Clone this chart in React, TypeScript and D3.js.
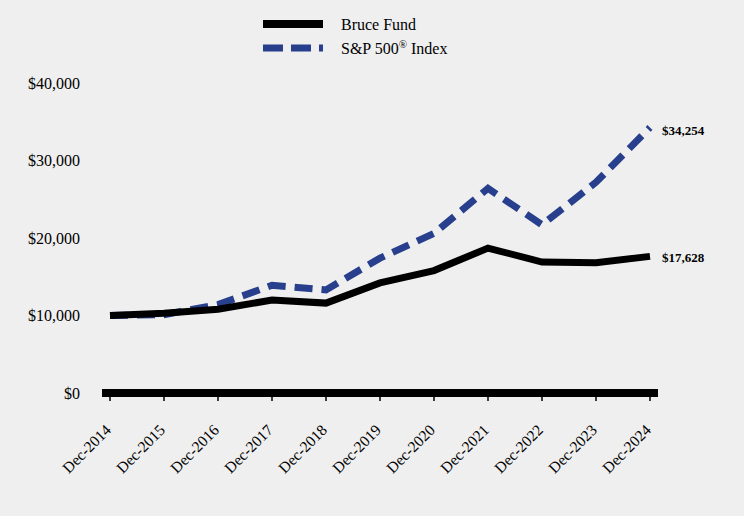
import React, { useRef, useEffect } from 'react';
import * as d3 from 'd3';

const years = ['Dec-2014', 'Dec-2015', 'Dec-2016', 'Dec-2017', 'Dec-2018', 'Dec-2019', 'Dec-2020', 'Dec-2021', 'Dec-2022', 'Dec-2023', 'Dec-2024'];
const bruceFund = [10000, 10300, 10800, 12000, 11600, 14200, 15800, 18700, 16900, 16800, 17628];
const sp500 = [10000, 10100, 11400, 13900, 13300, 17400, 20600, 26400, 21700, 27200, 34254];
const yTicks = [0, 10000, 20000, 30000, 40000];

const FONT = '"Liberation Serif", "Times New Roman", serif';
const BLUE = '#273f8c';

const App = () => {
  const svgRef = useRef<SVGSVGElement>(null);

  useEffect(() => {
    const width = 744;
    const height = 516;
    const svg = d3.select(svgRef.current);
    svg.selectAll('*').remove();
    svg.attr('width', width).attr('height', height);

    svg.append('rect').attr('width', width).attr('height', height).attr('fill', '#efefef');

    const x = d3.scalePoint().domain(years).range([110, 650]);
    const y = d3.scaleLinear().domain([0, 40000]).range([393, 83]);

    // y axis labels
    svg.append('g')
      .selectAll('text')
      .data(yTicks)
      .enter()
      .append('text')
      .attr('x', 80)
      .attr('y', d => y(d))
      .attr('dy', '0.35em')
      .attr('text-anchor', 'end')
      .attr('font-family', FONT)
      .attr('font-size', 16)
      .attr('fill', '#000')
      .text(d => d3.format('$,')(d));

    // tick marks
    svg.append('g')
      .selectAll('line')
      .data(years)
      .enter()
      .append('line')
      .attr('x1', d => x(d)!)
      .attr('x2', d => x(d)!)
      .attr('y1', 395)
      .attr('y2', 401)
      .attr('stroke', '#000')
      .attr('stroke-width', 1.5);

    // baseline
    svg.append('line')
      .attr('x1', 102)
      .attr('x2', 658)
      .attr('y1', y(0))
      .attr('y2', y(0))
      .attr('stroke', '#000')
      .attr('stroke-width', 8);

    // x labels
    svg.append('g')
      .selectAll('text')
      .data(years)
      .enter()
      .append('text')
      .attr('transform', d => 'translate(' + (x(d)! + 2) + ',431) rotate(-45)')
      .attr('text-anchor', 'end')
      .attr('font-family', FONT)
      .attr('font-size', 15.5)
      .attr('fill', '#000')
      .text(d => d);

    const line = d3.line<number>()
      .x((d, i) => x(years[i])!)
      .y(d => y(d));

    svg.append('path')
      .datum(sp500)
      .attr('d', line)
      .attr('fill', 'none')
      .attr('stroke', BLUE)
      .attr('stroke-width', 7)
      .attr('stroke-dasharray', '18,9');

    svg.append('path')
      .datum(bruceFund)
      .attr('d', line)
      .attr('fill', 'none')
      .attr('stroke', '#000')
      .attr('stroke-width', 7);

    // end labels
    const ends = [
      { v: sp500[sp500.length - 1], yy: y(sp500[sp500.length - 1]) + 3 },
      { v: bruceFund[bruceFund.length - 1], yy: y(bruceFund[bruceFund.length - 1]) + 1 },
    ];
    svg.append('g')
      .selectAll('text')
      .data(ends)
      .enter()
      .append('text')
      .attr('x', 662)
      .attr('y', d => d.yy)
      .attr('dy', '0.35em')
      .attr('font-family', FONT)
      .attr('font-size', 13)
      .attr('font-weight', 'bold')
      .attr('fill', '#000')
      .text(d => d3.format('$,')(d.v));

    // legend
    const legend = svg.append('g');
    legend.append('line')
      .attr('x1', 263).attr('x2', 323).attr('y1', 24).attr('y2', 24)
      .attr('stroke', '#000').attr('stroke-width', 8);
    legend.append('line')
      .attr('x1', 263).attr('x2', 323).attr('y1', 48).attr('y2', 48)
      .attr('stroke', BLUE).attr('stroke-width', 7).attr('stroke-dasharray', '20,8');
    legend.append('text')
      .attr('x', 341).attr('y', 24).attr('dy', '0.35em')
      .attr('font-family', FONT).attr('font-size', 16).attr('fill', '#000')
      .text('Bruce Fund');
    const t = legend.append('text')
      .attr('x', 341).attr('y', 48).attr('dy', '0.35em')
      .attr('font-family', FONT).attr('font-size', 16).attr('fill', '#000');
    t.append('tspan').text('S&P 500');
    t.append('tspan').attr('font-size', 11).attr('dy', '-0.5em').text('®');
    t.append('tspan').attr('dy', '0.35em').text(' Index');
  }, []);

  return (
    <svg ref={svgRef} style={{ position: 'absolute', left: 0, top: 0 }}></svg>
  );
};

export default App;
